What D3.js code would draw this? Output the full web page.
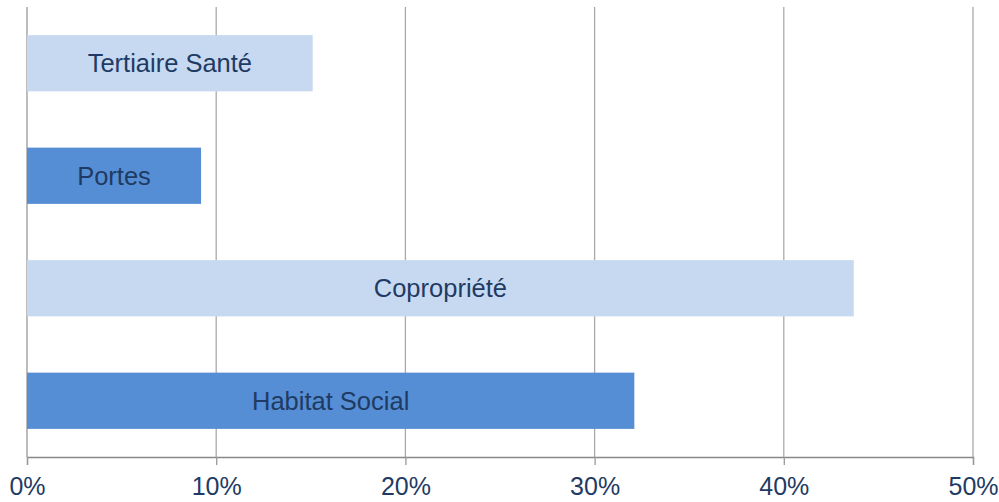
<!doctype html>
<html lang="en">
<head>
    <meta charset="UTF-8">
    <title>Répartition</title>
    <style>
        body { margin: 0; background: #fff; }
        text { font-family: "Liberation Sans", Arial, sans-serif; }
    </style>
</head>
<body>
<script src="https://cdn.jsdelivr.net/npm/d3@7/dist/d3.min.js"></script>
<script>

    // data
    const categories = ['Tertiaire Santé', 'Portes', 'Copropriété', 'Habitat Social']
    const values = [15.1, 9.2, 43.7, 32.1]
    const barColors = ['#c6d9f1', '#558ed5', '#c6d9f1', '#558ed5']
    const ticks = [0, 10, 20, 30, 40, 50]

    const width = 999
    const height = 502
    const margin = {top: 7, right: 26, bottom: 45, left: 27}

    const svg = d3.select('body')
        .append('svg')
        .attr('width', width)
        .attr('height', height)

    const x = d3.scaleLinear()
        .domain([0, 50])
        .range([margin.left, width - margin.right])

    const y = d3.scaleBand()
        .domain(categories)
        .range([margin.top, height - margin.bottom])
        .paddingInner(0.5)
        .paddingOuter(0.25)

    const bottom = height - margin.bottom

    // vertical grid lines
    svg.append('g')
        .selectAll('line')
        .data(ticks)
        .enter()
        .append('line')
        .attr('x1', d => x(d))
        .attr('x2', d => x(d))
        .attr('y1', margin.top)
        .attr('y2', bottom)
        .attr('stroke', d => d === 0 ? '#999' : '#aaa')
        .attr('stroke-width', 1.3)

    // bars
    svg.append('g')
        .selectAll('rect')
        .data(values)
        .enter()
        .append('rect')
        .attr('x', x(0))
        .attr('y', (d, i) => y(categories[i]))
        .attr('width', d => x(d) - x(0))
        .attr('height', y.bandwidth())
        .attr('fill', (d, i) => barColors[i])

    // labels inside bars
    svg.append('g')
        .selectAll('text')
        .data(values)
        .enter()
        .append('text')
        .attr('x', d => (x(0) + x(d)) / 2)
        .attr('y', (d, i) => y(categories[i]) + y.bandwidth() / 2)
        .attr('dy', '0.35em')
        .attr('text-anchor', 'middle')
        .attr('font-size', 25.5)
        .attr('fill', '#1f3b63')
        .text((d, i) => categories[i])

    // x axis
    const axis = svg.append('g')
        .attr('transform', `translate(0, ${bottom})`)
        .call(d3.axisBottom(x)
            .tickValues(ticks)
            .tickSize(8)
            .tickPadding(12)
            .tickFormat(d => d + '%'))

    axis.select('.domain').attr('stroke', '#888').attr('stroke-width', 1.3)
    axis.selectAll('.tick line').attr('stroke', '#999').attr('stroke-width', 1.3)
    axis.selectAll('.tick text')
        .attr('font-size', 25)
        .attr('fill', '#1f3b63')
        .attr('font-family', '"Liberation Sans", Arial, sans-serif')

</script>
</body>
</html>
